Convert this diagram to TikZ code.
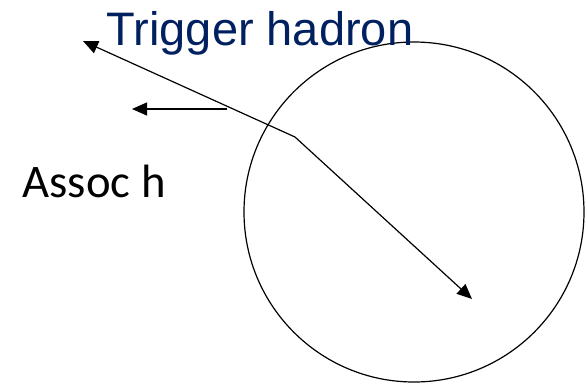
\documentclass[tikz,border=0pt]{standalone}
\usepackage{fontspec}
\setmainfont{Liberation Sans}
\newfontfamily\calfont{Carlito}
\usetikzlibrary{arrows.meta}

\begin{document}
\begin{tikzpicture}[x=1pt, y=-1pt, >={Triangle[length=15pt,width=13pt]}, line width=1.2pt]
    % 固定画布大小
    \useasboundingbox (0,0) rectangle (587,384);

    % 关键点
    \coordinate (vtx) at (295,137);
    \coordinate (trigtip) at (83,41);
    \coordinate (awaytip) at (472,299);
    \coordinate (assocstart) at (227,109);
    \coordinate (assoctip) at (132,109);

    % 介质圆
    \draw (414,212) circle (170);

    % 触发强子与反向喷注
    \draw[->] (vtx) -- (trigtip);
    \draw[->] (vtx) -- (awaytip);

    % 伴随强子
    \draw[->] (assocstart) -- (assoctip);

    % 标注
    \node[anchor=base, inner sep=0, text={rgb,255:red,0;green,32;blue,96}, font=\fontsize{47}{47}\selectfont] (trig) at (260,45) {Trigger hadron};
    \node[anchor=base west, inner sep=0, font=\calfont\fontsize{46.7}{46.7}\selectfont] (assoc) at (22,197) {Assoc h};
\end{tikzpicture}
\end{document}
